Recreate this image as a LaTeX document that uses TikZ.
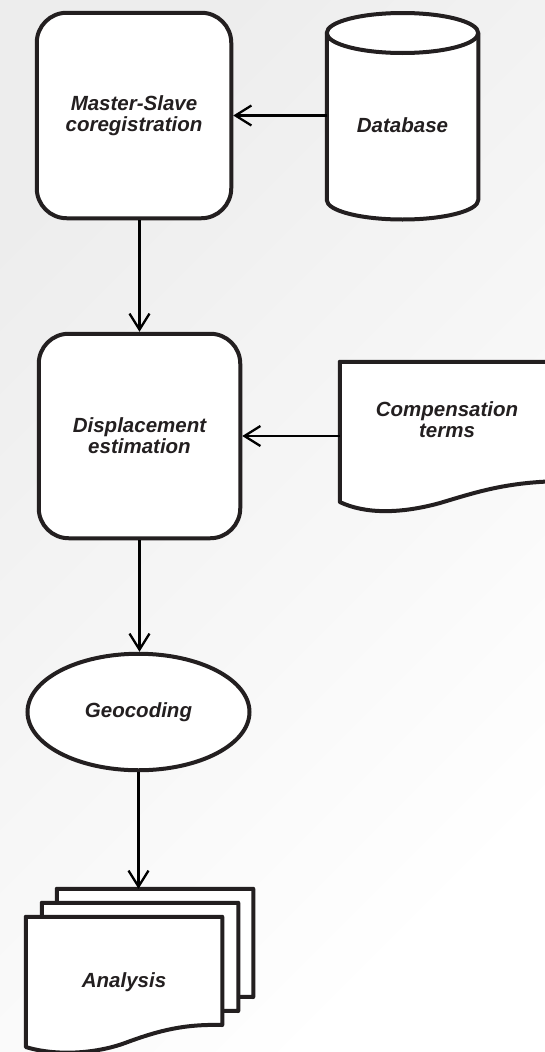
\documentclass[tikz,border=0pt]{standalone}
\usepackage{fontspec}
\setmainfont{Liberation Sans}
\usetikzlibrary{arrows.meta,shapes.geometric}
\definecolor{inkgray}{HTML}{231F20}
\definecolor{pagegray}{HTML}{EDEDED}

\begin{document}
\begin{tikzpicture}[x=1pt,y=1pt,
  lbl/.style={text=inkgray,font=\fontsize{20.5}{21}\selectfont\bfseries\itshape,align=center},
  procbox/.style={lbl,draw=inkgray,line width=4pt,fill=white,rounded corners=30pt},
  outline/.style={draw=inkgray,line width=4pt,fill=white,line join=round},
  flow/.style={draw=black,line width=2.3pt,-{Straight Barb[length=16pt,width=20pt]}}]
% page
\clip (0,0) rectangle (545,-1052);
\shade[top color=pagegray,bottom color=white,shading angle=45] (0,0) rectangle (545,-1052);

% processing steps
\node[procbox,minimum width=194.5,minimum height=205.5] (ms) at (134,-115.5)
  {Master-Slave\\coregistration};
\node[procbox,minimum width=201.5,minimum height=204.5] (disp) at (139.5,-436)
  {Displacement\\estimation};
\node[lbl,ellipse,draw=inkgray,line width=4pt,fill=white,inner sep=0pt,
      minimum width=222,minimum height=116.5] (geo) at (138.5,-712) {Geocoding};

% database
\path[outline] (326.75,-33) -- (326.75,-200)
  arc[start angle=180,end angle=360,x radius=75.75,y radius=19.5]
  -- (478.25,-33) arc[start angle=0,end angle=180,x radius=75.75,y radius=20] -- cycle;
\draw[outline,fill=none] (326.75,-33) arc[start angle=180,end angle=360,x radius=75.75,y radius=20];
\node[lbl,minimum width=151.5] (db) at (402.5,-125) {Database};

% compensation terms (runs off the right edge)
\path[outline] (570,-361.75) -- (339.75,-361.75) -- (339.75,-502)
  .. controls (365,-514) and (400,-514) .. (440,-503)
  .. controls (480,-491) and (510,-481) .. (570,-481) -- cycle;
\node[lbl,minimum width=214.5] (comp) at (447,-420) {Compensation\\terms};

% analysis stack
\foreach \dx/\dy in {31/28,16/14,0/0}{
  \path[outline,shift={(\dx,\dy)}] (25.75,-916.75) -- (222.25,-916.75) -- (222.25,-1025)
    .. controls (185,-1024) and (160,-1030) .. (125,-1043)
    .. controls (95,-1054) and (55,-1056) .. (25.75,-1047) -- cycle;
}
\coordinate (stacktop) at (140,-888.75);
\node[lbl] (ana) at (124,-982) {Analysis};

% connectors
\draw[flow] (db.west |- ms.east) -- (ms.east);
\draw[flow] (ms.south -| disp.north) -- (disp.north);
\draw[flow] (comp.west |- disp.east) -- (disp.east);
\draw[flow] (disp.south) -- (disp.south |- geo.north);
\draw[flow] (geo.south) -- (geo.south |- stacktop);
\end{tikzpicture}
\end{document}
